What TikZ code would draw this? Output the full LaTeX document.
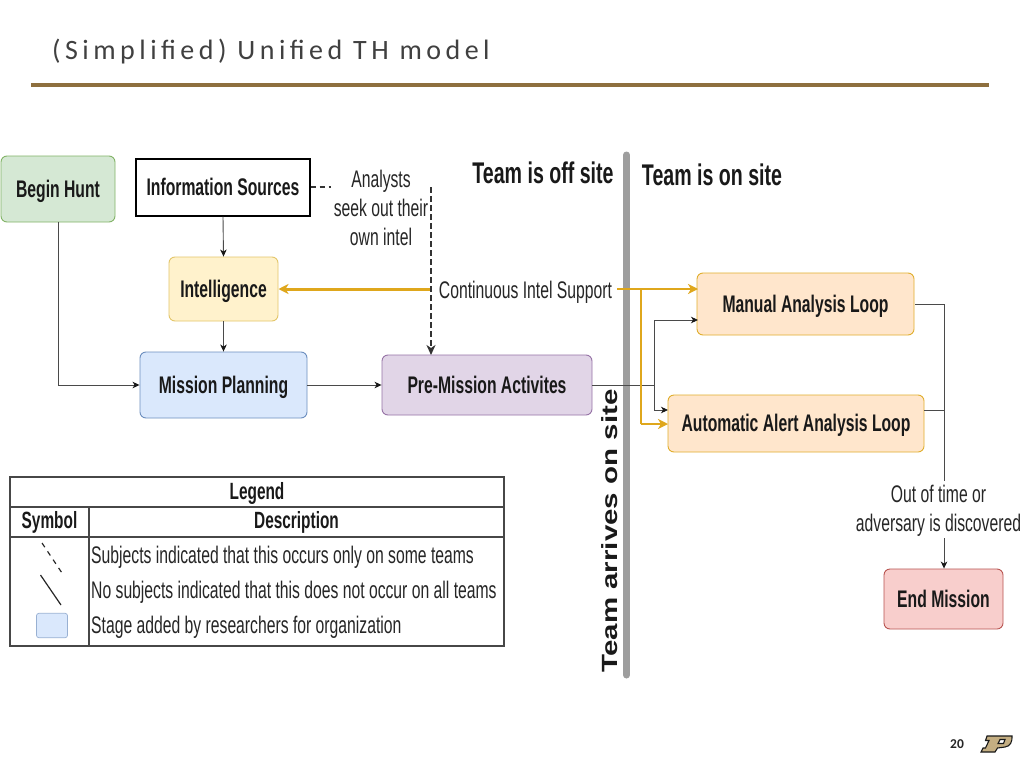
\documentclass[tikz,border=0pt]{standalone}
\usepackage{fontspec}
\usetikzlibrary{arrows.meta,positioning,calc}
\setmainfont{Liberation Sans}
\newfontfamily\narrowf[FakeStretch=0.655]{Liberation Sans}
\newfontfamily\widef[FakeStretch=1.34]{Liberation Sans}
\newfontfamily\titlef[LetterSpace=16]{Carlito}
\newfontfamily\numf{Carlito}
\definecolor{conn}{HTML}{4A4A4A}
\definecolor{gold}{HTML}{DFA71C}
\definecolor{rulec}{HTML}{8E6F3E}
\definecolor{logoc}{HTML}{C4AE82}
\tikzset{
  box/.style={draw,rounded corners=6pt,line width=0.9pt,align=center,inner sep=0pt,text height=21pt,text depth=5pt,font=\narrowf\bfseries\fontsize{24}{28}\selectfont,text=black!90},
  lab/.style={align=center,inner sep=0pt,font=\narrowf\fontsize{24}{29}\selectfont,text=black!85},
  headtext/.style={inner sep=0pt,font=\narrowf\bfseries\fontsize{29.9}{32}\selectfont,text=black!90},
  celltext/.style={inner sep=0pt,font=\narrowf\fontsize{24}{28}\selectfont,text=black!85,anchor=base west},
  cellb/.style={inner sep=0pt,text height=20pt,text depth=5pt,font=\narrowf\bfseries\fontsize{23.5}{28}\selectfont,text=black!90},
  arr/.style={draw=conn,line width=0.9pt,-{Stealth[length=7pt,width=6.5pt,inset=2pt,color=black!90]}},
  plainline/.style={draw=conn,line width=0.9pt},
  goldarr/.style={draw=gold,line width=2.6pt,-{Stealth[length=10pt,width=10pt,inset=3pt]}},
  goldline/.style={draw=gold,line width=2pt},
  dashline/.style={draw=black!80,line width=1.1pt,dash pattern=on 5.5pt off 3.5pt},
  tbl/.style={draw=black!72,line width=1.9pt}
}
\definecolor{boxgreen}{HTML}{D5E8D4}\definecolor{edgegreen}{HTML}{82B366}
\definecolor{boxyellow}{HTML}{FFF2CC}\definecolor{edgeyellow}{HTML}{E3C66A}
\definecolor{boxblue}{HTML}{DAE8FC}\definecolor{edgeblue}{HTML}{6C8EBF}
\definecolor{boxpurple}{HTML}{E1D5E7}\definecolor{edgepurple}{HTML}{9673A6}
\definecolor{boxorange}{HTML}{FFE6CC}\definecolor{edgeorange}{HTML}{E0AE2C}
\definecolor{boxred}{HTML}{F8CECC}\definecolor{edgered}{HTML}{B85450}
\begin{document}
\begin{tikzpicture}[x=1pt,y=-1pt]
\useasboundingbox (0,0) rectangle (1024,768);
\fill[white] (0,0) rectangle (1024,768);
% title and rule
\node[inner sep=0pt,anchor=west,text=black!75,font=\titlef\fontsize{28}{32}\selectfont] (title) at (52,51.5) {(Simplified) Unified TH model};
\draw[rulec,line width=4pt] (31,84.5) -- (989,84.5);
% divider
\draw[black!38,line width=7pt,line cap=round] (626.5,155) -- (626.5,675);
% boxes
\node[box,fill=boxgreen,draw=edgegreen,minimum width=114pt,minimum height=66pt] (begin) at (58,189) {Begin Hunt};
\node[box,rounded corners=0pt,fill=white,draw=black,line width=1.4pt,minimum width=174pt,minimum height=57pt] (info) at (223,187.5) {Information Sources};
\node[box,fill=boxyellow,draw=edgeyellow,minimum width=109pt,minimum height=64pt] (intel) at (223.5,289) {Intelligence};
\node[box,fill=boxblue,draw=edgeblue,minimum width=167pt,minimum height=66pt] (plan) at (223.5,385) {Mission Planning};
\node[box,fill=boxpurple,draw=edgepurple,minimum width=210pt,minimum height=60pt] (pre) at (487,385) {Pre-Mission Activites};
\node[box,fill=boxorange,draw=edgeorange,minimum width=217pt,minimum height=62pt] (manual) at (805.5,304) {Manual Analysis Loop};
\node[box,fill=boxorange,draw=edgeorange,minimum width=256pt,minimum height=57pt] (auto) at (796,423.5) {Automatic Alert Analysis Loop};
\node[box,fill=boxred,draw=edgered,minimum width=119pt,minimum height=60pt] (end) at (943.5,599) {End Mission};
% labels
\node[lab] (analysts) at (381,207.5) {Analysts\\seek out their\\own intel};
\node[lab,anchor=base] (support) at (525.5,298) {Continuous Intel Support};
\node[lab] (outoftime) at (938.5,511) {Out of time or\\adversary is discovered};
\node[headtext] (off) at (543,172.5) {Team is off site};
\node[headtext] (on) at (712,174.5) {Team is on site};
\node[inner sep=0pt,rotate=90,text=black!90,font=\widef\bfseries\fontsize{22}{26}\selectfont] (arrives) at (610,531) {Team arrives on site};
% coordinates for connector bends and free ends
\coordinate (bh) at (begin.south |- plan.west);
\coordinate (infoend) at (331,187);
\coordinate (dtop) at (431,187);
\coordinate (dbot) at (431,355);
\coordinate (j) at (654,385);
\coordinate (mup) at (654,320);
\coordinate (min) at (698,320);
\coordinate (adn) at (654,410);
\coordinate (ain) at (668,410);
\coordinate (gtop) at (641,289);
\coordinate (gbot) at (641,424);
\coordinate (gain) at (668,424);
\coordinate (gmin) at (698,289);
\coordinate (gl) at (432,289);
\coordinate (gr) at (617,289);
\coordinate (gint) at (278.5,289);
\coordinate (mout) at (915,304);
\coordinate (aout) at (924,410);
\coordinate (trunk) at (944,304);
\coordinate (ajoin) at (944,410);
\coordinate (tend) at (944,481);
\coordinate (estart) at (944,538);
% connectors
\draw[arr] (begin.south) -- (bh) -- (plan.west);
\draw[arr] (info.south) -- (intel.north);
\draw[arr] (intel.south) -- (plan.north);
\draw[arr] (plan.east) -- (pre.west);
\draw[plainline] (pre.east) -- (j);
\draw[arr] (j) -- (mup) -- (min);
\draw[arr] (j) -- (adn) -- (ain);
\draw[plainline] (mout) -- (trunk) -- (tend);
\draw[plainline] (aout) -- (ajoin);
\draw[arr] (estart) -- (end.north -| estart);
\draw[goldarr,line width=3pt] (gl) -- (gint);
\draw[goldarr] (gr) -- (gmin);
\draw[goldline] (gtop) -- (gbot);
\draw[goldarr,line width=2pt] (gbot) -- (gain);
\draw[dashline] (info.east |- infoend) -- (infoend);
\draw[dashline,-{Stealth[length=10pt,width=9pt,inset=3pt]}] (dtop) -- (dbot);
% legend
\coordinate (lnw) at (10,477);
\coordinate (lse) at (504,646);
\coordinate (l1l) at (10,507);\coordinate (l1r) at (504,507);
\coordinate (l2l) at (10,537);\coordinate (l2r) at (504,537);
\coordinate (vt) at (89,507);\coordinate (vb) at (89,646);
\draw[tbl] (lnw) rectangle (lse);
\draw[tbl,line width=2.6pt] (l1l) -- (l1r);
\draw[tbl] (l2l) -- (l2r);
\draw[tbl] (vt) -- (vb);
\node[cellb] (lg) at (257,492) {Legend};
\node[cellb] (sy) at (49.5,520.5) {Symbol};
\node[cellb] (de) at (296.5,520.5) {Description};
\node[celltext] (r1) at (91,563.5) {Subjects indicated that this occurs only on some teams};
\node[celltext] (r2) at (91,598.5) {No subjects indicated that this does not occur on all teams};
\node[celltext] (r3) at (91,633) {Stage added by researchers for organization};
\coordinate (s1a) at (42,543);\coordinate (s1b) at (62,573);
\coordinate (s2a) at (40.5,575);\coordinate (s2b) at (61,605);
\draw[black!85,line width=1.2pt,dash pattern=on 5pt off 5pt] (s1a) -- (s1b);
\draw[black!85,line width=1.2pt] (s2a) -- (s2b);
\node[draw=edgeblue!70,fill=boxblue,rounded corners=2.5pt,minimum width=31pt,minimum height=24.5pt,inner sep=0pt,line width=0.7pt] (sw) at (52,625.5) {};
% footer
\node[inner sep=0pt,text=black!85,font=\numf\bfseries\fontsize{13.5}{16}\selectfont] (page) at (957,744) {20};
\draw[fill=logoc,draw=black!90,line width=1.1pt,even odd rule]
 (987,736) -- (1012,736) .. controls (1012.5,741) and (1010.5,746.5) .. (1005,747) -- (997.5,748) -- (995,752) -- (981,752) -- (983,748) -- (985.5,748) -- (989,740.5) -- (985.5,740.5) -- cycle
 (1000,739.5) -- (1005,739.5) -- (1003.5,743.5) -- (998,743.5) -- cycle;
\end{tikzpicture}
\end{document}
